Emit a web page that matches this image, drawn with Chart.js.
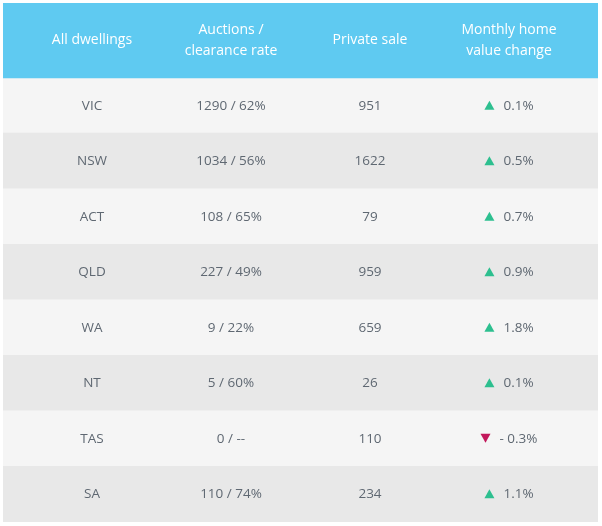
<!DOCTYPE html>
<html><head><meta charset="utf-8">
<script src="https://cdn.jsdelivr.net/npm/chart.js@4"></script>
<style>html,body{margin:0;padding:0;background:#fff}#w{width:602px;height:526px}</style>
</head><body><div id="w"><canvas id="c"></canvas></div>
<script>
const headers = [["All dwellings"],["Auctions /","clearance rate"],["Private sale"],["Monthly home","value change"]];
const regions = ["VIC","NSW","ACT","QLD","WA","NT","TAS","SA"];
const auctions = ["1290 / 62%","1034 / 56%","108 / 65%","227 / 49%","9 / 22%","5 / 60%","0 / --","110 / 74%"];
const privateSale = [951,1622,79,959,659,26,110,234];
const valueChange = [0.1,0.5,0.7,0.9,1.8,0.1,-0.3,1.1];
const columnCenters = [89,228,367,506];
const headerUnits = 1.35;
const rowCenters = regions.map((r,i)=>headerUnits+i+0.5);

const rowBg = regions.map((r,i)=> i%2===0 ? '#f5f5f5' : '#e8e8e8');

const textPlugin = {
  id:'cells',
  afterDatasetsDraw(chart){
    const {ctx, scales:{x,y}} = chart;
    ctx.save();
    ctx.textAlign='center'; ctx.textBaseline='middle';
    ctx.fillStyle='#ffffff';
    ctx.font='14px "Open Sans", sans-serif';
    const hy = y.getPixelForValue(headerUnits/2);
    headers.forEach((h,j)=>{
      const cx = x.getPixelForValue(columnCenters[j]);
      h.forEach((line,k)=>{
        ctx.fillText(line, cx, hy + (k-(h.length-1)/2)*21);
      });
    });
    ctx.font='13.5px "Open Sans", sans-serif';
    regions.forEach((r,i)=>{
      const py = y.getPixelForValue(rowCenters[i]);
      ctx.fillStyle='#5f6872';
      ctx.textAlign='center';
      ctx.fillText(r, x.getPixelForValue(columnCenters[0]), py);
      ctx.fillText(auctions[i], x.getPixelForValue(columnCenters[1]), py);
      ctx.fillText(String(privateSale[i]), x.getPixelForValue(columnCenters[2]), py);
      const v = valueChange[i];
      const label = v<0 ? '- '+Math.abs(v).toFixed(1)+'%' : v.toFixed(1)+'%';
      const cx = x.getPixelForValue(columnCenters[3]);
      const tw = ctx.measureText(label).width;
      const total = 10+9+tw;
      const sx = cx - total/2;
      ctx.fillStyle = v<0 ? '#c2185b' : '#2dbf8f';
      ctx.beginPath();
      if(v<0){ ctx.moveTo(sx,py-5); ctx.lineTo(sx+10,py-5); ctx.lineTo(sx+5,py+4); }
      else { ctx.moveTo(sx,py+4); ctx.lineTo(sx+10,py+4); ctx.lineTo(sx+5,py-5); }
      ctx.closePath(); ctx.fill();
      ctx.fillStyle='#5f6872';
      ctx.textAlign='left';
      ctx.fillText(label, sx+19, py);
    });
    ctx.restore();
  }
};

new Chart(document.getElementById('c'),{
  type:'bar',
  data:{datasets:[
    {data:[{x:[0,595],y:headerUnits/2}], backgroundColor:'#5fcaf1', barThickness:75, grouped:false},
    {data:regions.map((r,i)=>({x:[0,595],y:rowCenters[i]})), backgroundColor:rowBg, barThickness:56, grouped:false}
  ]},
  options:{
    indexAxis:'y', responsive:true, maintainAspectRatio:false, animation:false,
    layout:{padding:{left:3,right:4,top:3,bottom:4}},
    plugins:{legend:{display:false},tooltip:{enabled:false}},
    scales:{
      x:{type:'linear',min:0,max:595,display:false},
      y:{type:'linear',min:0,max:headerUnits+regions.length,reverse:true,display:false,offset:false}
    }
  },
  plugins:[textPlugin]
});
</script></body></html>
